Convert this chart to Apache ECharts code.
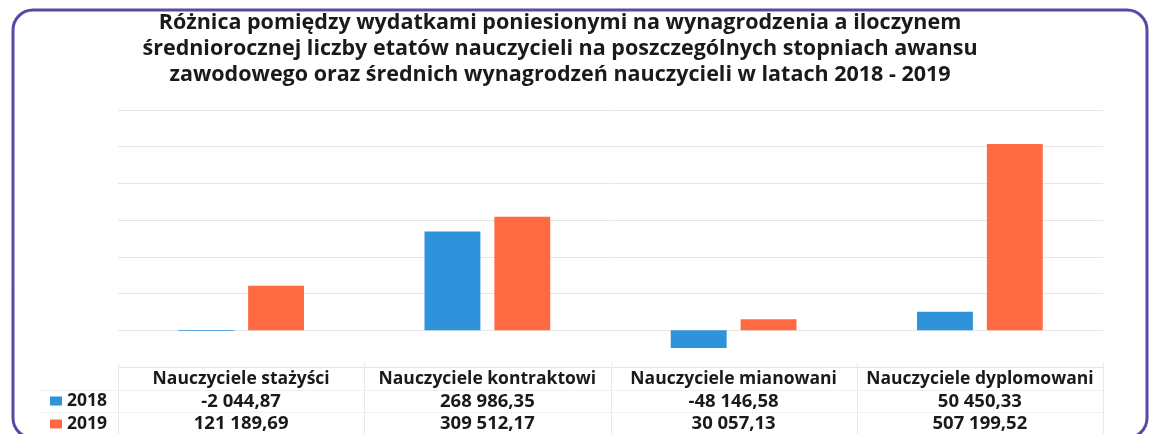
<!DOCTYPE html>
<html>
<head>
<meta charset="utf-8">
<script src="https://cdn.jsdelivr.net/npm/echarts@6/dist/echarts.min.js"></script>
<style>
html,body{margin:0;padding:0;background:#fff;}
#c{width:1149px;height:434px;}
</style>
</head>
<body>
<div id="c"></div>
<script>
const titleLines = [
  'Różnica pomiędzy wydatkami poniesionymi na wynagrodzenia a iloczynem',
  'średniorocznej liczby etatów nauczycieli na poszczególnych stopniach awansu',
  'zawodowego oraz średnich wynagrodzeń nauczycieli w latach 2018 - 2019'
];
const categories = ['Nauczyciele stażyści', 'Nauczyciele kontraktowi', 'Nauczyciele mianowani', 'Nauczyciele dyplomowani'];
const seriesNames = ['2018', '2019'];
const values2018 = [-2044.87, 268986.35, -48146.58, 50450.33];
const values2019 = [121189.69, 309512.17, 30057.13, 507199.52];
const colors = ['#2f93dc', '#ff6a42'];

function fmt(v) {
  const neg = v < 0;
  const s = Math.abs(v).toFixed(2);
  let [ip, dp] = s.split('.');
  ip = ip.replace(/\B(?=(\d{3})+(?!\d))/g, ' ');
  return (neg ? '-' : '') + ip + ',' + dp;
}

const chart = echarts.init(document.getElementById('c'));
const FONT = '"Open Sans", Lato, sans-serif';

const legendText = { fontFamily: FONT, fontWeight: 'bold', fontSize: 17.5, color: '#1a1a1a' };

const option = {
  animation: false,
  backgroundColor: '#fff',
  title: {
    text: titleLines.join('\n'),
    left: 555,
    textAlign: 'center',
    top: 5,
    textStyle: { fontFamily: FONT, fontWeight: 'bold', fontSize: 21.5, lineHeight: 26, color: '#1a1a1a' }
  },
  legend: [
    { left: 50, top: 392, padding: 0, itemWidth: 12, itemHeight: 9, itemGap: 0, icon: 'rect', textStyle: legendText, data: [seriesNames[0]] },
    { left: 50, top: 415, padding: 0, itemWidth: 12, itemHeight: 9, itemGap: 0, icon: 'rect', textStyle: legendText, data: [seriesNames[1]] }
  ],
  grid: { left: 118, right: 46, top: 110, height: 257 },
  xAxis: {
    type: 'category',
    data: categories,
    axisLine: { show: false, onZero: false },
    axisTick: { show: false },
    axisLabel: {
      interval: 0,
      margin: 1,
      formatter: function (val, idx) {
        return '{h|' + val + '}\n{v|' + fmt(values2018[idx]) + '}\n{v|' + fmt(values2019[idx]) + '}';
      },
      rich: {
        h: { fontFamily: FONT, fontWeight: 'bold', fontSize: 17.5, lineHeight: 22, color: '#1a1a1a' },
        v: { fontFamily: FONT, fontWeight: 'bold', fontSize: 18.5, lineHeight: 22.5, color: '#1a1a1a' }
      }
    }
  },
  yAxis: {
    type: 'value',
    min: -100000,
    max: 600000,
    interval: 100000,
    axisLabel: { show: false },
    axisLine: { show: false },
    axisTick: { show: false },
    splitLine: { lineStyle: { color: '#e6e6e6', width: 1 } }
  },
  series: [
    { name: seriesNames[0], type: 'bar', data: values2018, barWidth: '22.7%', barGap: '25%', itemStyle: { color: colors[0] } },
    { name: seriesNames[1], type: 'bar', data: values2019, barWidth: '22.7%', barGap: '25%', itemStyle: { color: colors[1] } }
  ]
};
chart.setOption(option);

// faint data-table lines and rounded frame
const gridTop = chart.convertToPixel({ yAxisIndex: 0 }, -100000);
const c0 = chart.convertToPixel({ xAxisIndex: 0 }, categories[0]);
const c1 = chart.convertToPixel({ xAxisIndex: 0 }, categories[1]);
const step = c1 - c0;
const leftB = c0 - step / 2;
const elements = [];
for (let i = 0; i <= categories.length; i++) {
  const x = Math.round(leftB + i * step) + 0.5;
  elements.push({ type: 'line', shape: { x1: x, y1: gridTop - 4, x2: x, y2: 440 }, style: { stroke: '#e9e9e9', lineWidth: 1 }, silent: true });
}
[gridTop + 23, gridTop + 45].forEach(function (y) {
  elements.push({ type: 'line', shape: { x1: 40, y1: Math.round(y) + 0.5, x2: leftB + categories.length * step, y2: Math.round(y) + 0.5 }, style: { stroke: '#f1f1f1', lineWidth: 1 }, silent: true });
});
elements.push({
  type: 'rect',
  shape: { x: 13, y: 10, width: 1134, height: 428, r: 20 },
  style: { fill: 'none', stroke: '#5b49a8', lineWidth: 3 },
  silent: true, z: 100
});
chart.setOption({ graphic: { elements: elements } });
</script>
</body>
</html>
